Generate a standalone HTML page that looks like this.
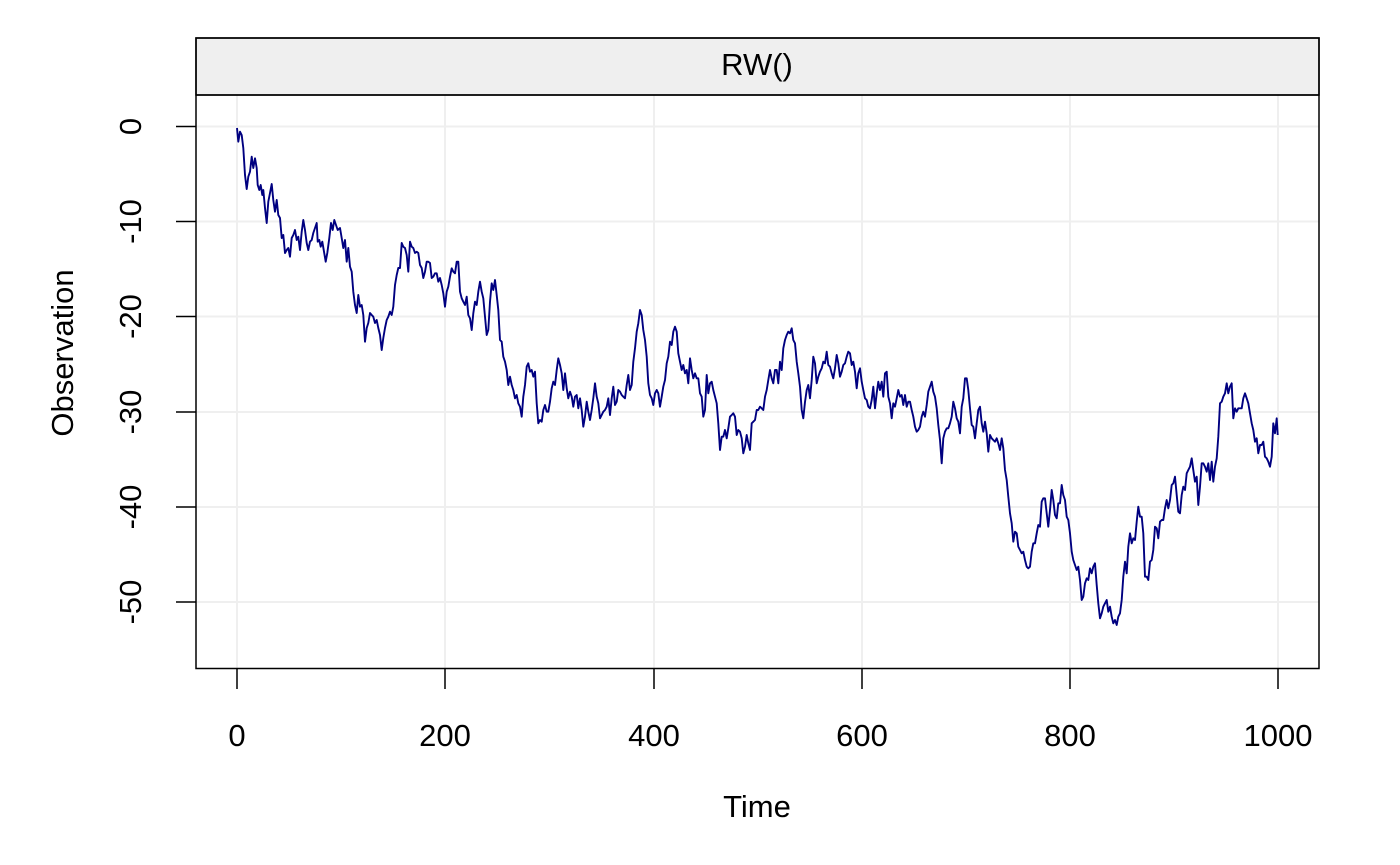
<!DOCTYPE html>
<html>
<head>
<meta charset="utf-8">
<style>
html,body{margin:0;padding:0;background:#fff;}
svg{display:block;}
text{font-family:"Liberation Sans",Arial,sans-serif;fill:#000;}
</style>
</head>
<body>
<svg width="1400" height="865" viewBox="0 0 1400 865" xmlns="http://www.w3.org/2000/svg">
<rect x="0" y="0" width="1400" height="865" fill="#fff"/>
<!-- grid -->
<g stroke="#efefef" stroke-width="2" fill="none">
<line x1="237" y1="95" x2="237" y2="668"/>
<line x1="445" y1="95" x2="445" y2="668"/>
<line x1="654" y1="95" x2="654" y2="668"/>
<line x1="862" y1="95" x2="862" y2="668"/>
<line x1="1070" y1="95" x2="1070" y2="668"/>
<line x1="1278" y1="95" x2="1278" y2="668"/>
<line x1="196" y1="126.5" x2="1319" y2="126.5"/>
<line x1="196" y1="221.5" x2="1319" y2="221.5"/>
<line x1="196" y1="316.5" x2="1319" y2="316.5"/>
<line x1="196" y1="412" x2="1319" y2="412"/>
<line x1="196" y1="507" x2="1319" y2="507"/>
<line x1="196" y1="602" x2="1319" y2="602"/>
</g>
<!-- strip -->
<rect x="196" y="38" width="1123" height="57" fill="#efefef" stroke="#000" stroke-width="1.5"/>
<text x="757" y="75" font-size="31" text-anchor="middle">RW()</text>
<!-- series -->
<polyline fill="none" stroke="#000080" stroke-width="1.9" stroke-linejoin="round" points="
237,128 238.3,141.7 240,131.7 241.7,135 243.3,148 245,175 246.7,189 248.3,176.7 250,171.7 251.7,156.7 253.3,168 255,158.3 256.7,168 257.7,185 259.3,190 260.7,185 262.3,195 263.3,190 265,208 266.7,223 268.3,201.7 270,193 271.7,184 273.3,200 275,211.7 276.7,200 278.3,215 280,218 281.7,238 283.3,235 285,253 286.7,250 288.3,248 290,256.7 291.7,238 293.3,235 295,230 296.7,240 298.3,236.7 300,250 301.7,231.7 303.3,220 305,230 306.7,243 308.3,250 310,241.7 311.7,240 313.3,233 315,228 316.7,223 317.7,241.7 319.3,240 320.7,246.7 322.3,241.7 324,251.7 325.7,261.7 327.3,253 329.3,238 331,223 332.7,230 334.3,220 336,225 337.7,230 340,228 341.7,238 343.3,248 345,240 346.7,261.7 348.3,248 350,266.7 351.7,271.7 353.3,291.7 355,305 356.7,313 358.3,295 360,306.7 361.7,305 363.3,315 365,341.7 366.7,328 368.3,323 370,313 371.7,315 373.3,316.7 375,323 376.7,320 378.3,328 380,335 381.7,350 383.3,338 385,328 386.7,320 388.3,316.7 390,311.7 391.7,315 393.3,306.7 395,285 396.7,275 398.3,268 400,268 401.7,243 403.3,246.7 405,248 406.7,255 408.3,271.7 410,241.7 411.7,246.7 413.3,248 415,253 416.7,251.7 418.3,253 420,265 421.7,268 423.3,278 425,271.7 426.7,261.7 428.3,261.7 430,263
431.7,278 433.3,276.7 435,273.3 436.7,273.3 438.3,281.7 440,278 441.7,285 443.3,293.3 445,306.7 446.7,291.7 448.3,286.7 450,276.7 451.7,268.3 453.3,271.7 455,273.3 456.7,261.7 458.3,261.7 460,291.7 461.7,298.3 463.3,301.7 465,305 466.7,296.7 468.3,315 470,318.3 471.7,330 473.3,313.3 475,301.7 476.7,305 478.3,291.7 480,281.7 481.7,291.7 483.3,298.3 485,316.7 486.7,335 488.3,330 490,301.7 491.7,283.3 493.3,290 495,280 496.7,295 498.3,310 500,340 501.7,341.7 503.3,356.7 505,361.7 506.7,370 508.3,385 510,376.7 511.7,385 513.3,390 515,398.3 516.7,395 518.3,403.3 520,406.7 521.7,416.7 523.3,396.7 525,385 526.7,366.7 528.3,363.3 530,371.7 531.7,370 533.3,376.7 535,371.7 536.7,403.3 538.3,423.3 540,420 541.7,421.7 543.3,410 545,405 546.7,411.7 548.3,411.7 550,401.7 551.7,388.3 553.3,381.7 555,385 556.7,370 558.3,358.3 560,365 561.7,373.3 563.3,390 565,373.3 566.7,388.3 568.3,398.3 570,391.7 571.7,396.7 573.3,406.7 575,396.7 576.7,395 578.3,408.3 580,398.3 581.7,410 583.3,426.7 585,416.7 586.7,401.7 588.3,411.7 590,420 591.7,410 593.3,398.3 595,383.3 596.7,396.7 598.3,403.3 600,418.3 601.7,415 603.3,411.7 605,410 606.7,406.7 608.3,398.3 610,415 611.7,398.3 613.3,386.7 615,405 616.7,401.7 618.3,390 620,391.7
621.7,395 623.3,396.7 625,398.3 626.7,385 628.3,375 630,390 631.7,385 633.3,361.7 635,348.3 636.7,331.7 638.3,323.3 640,310 641.7,315 643.3,330 645,340 646.7,356.7 648.3,383.3 650,395 651.7,398.3 653.3,405 655,393.3 656.7,390 658.3,393.3 660,406.7 661.7,396.7 663.3,386.7 665,380 666.7,363.3 668.3,356.7 670,341.7 671.7,345 673.3,331.7 675,326.7 676.7,331.7 678.3,353.3 680,361.7 681.7,370 683.3,365 685,373.3 686.7,370 688.3,383.3 690,358.3 691.7,370 693.3,378.3 695,373.3 696.7,378.3 698.3,378.3 700,393.3 701.7,396.7 703.3,416.7 705,410 706.7,375 708.3,393.3 710,383.3 711.7,381.7 713.3,390 715,396.7 716.7,403.3 718.3,423.3 720,450 721.7,436.7 723.3,436.7 725,430 726.7,438.3 728.3,428.3 730,416.7 731.7,415 733.3,413.3 735,416.7 736.7,435 738.3,430 740,431.7 741.7,438.3 743.3,453.3 745,446.7 746.7,435 748.3,443.3 750,450 751.7,423.3 753.3,421.7 755,420 756.7,410 758.3,410 760,406.7 761.7,408.3 763.3,410 765,396.7 766.7,390 768.3,380 770,370 771.7,378.3 773.3,383.3 775,370 776.7,370 778.3,383.3 780,361.7 781.7,370 783.3,348.3 785,340 786.7,335 788.3,331.7 790,333.3 791.7,328.3 793.3,340 795,343.3 796.7,361.7 798.3,373.3 800,386.7 801.7,410 803.3,418.3 805,402 806.7,390 808.3,385 810,398.3
811.7,380 813.3,356.7 815,363.3 816.7,383.3 818.3,376.7 820,371.7 821.7,368.3 823.3,361.7 825,363.3 826.7,351.7 828.3,365 830,366.7 831.7,373.3 833.3,378.3 835,368.3 836.7,355 838.3,363.3 840,376.7 841.7,371.7 843.3,365 845,363.3 846.7,356.7 848.3,351.7 850,353.3 851.7,365 853.3,361.7 855,371.7 856.7,388.3 858.3,373.3 860,368.3 861.7,381.7 863.3,390 865,398.3 866.7,400 868.3,406.7 870,408.3 871.7,400 873.3,386.7 875,408.3 876.7,393.3 878.3,381.7 880,390 881.7,381.7 883.3,396.7 885,373.3 886.7,371.7 888.3,396.7 890,403.3 891.7,418.3 893.3,403.3 895,406.7 896.7,398.3 898.3,390 900,396.7 901.7,395 903.3,405 905,395 906.7,406.7 908.3,401.7 910,401.7 911.7,410 913.3,416.7 915,426.7 916.7,431.7 918.3,430 920,426.7 921.7,416.7 923.3,411.7 925,416.7 926.7,405 928.3,391.7 930,386.7 931.7,381.7 933.3,391.7 935,396.7 936.7,408.3 938.3,425 940,440 941.7,463.3 943.3,438.3 945,431.7 946.7,428.3 948.3,428.3 950,423.3 951.7,416.7 953.3,401.7 955,408.3 956.7,418.3 958.3,421.7 960,433.3 961.7,406.7 963.3,398.3 965,378.3 966.7,378.3 968.3,390 970,408.3 971.7,425 973.3,426.7 975,438.3 976.7,423.3 978.3,410 980,406.7 981.7,423.3 983.3,431.7 985,421.7 986.7,433.3 988.3,451.7 990,435 991.7,438.3 993.3,440 995,441.7 996.7,438.3 998.3,443.3 1000,450
1001.7,438.3 1003.3,448.3 1005,470 1006.7,480 1008.3,496.7 1010,513.3 1011.7,523.3 1013.3,541.7 1015,531.7 1016.7,533.3 1018.3,546.7 1020,550 1021.7,553.3 1023.3,551.7 1025,560 1026.7,566.7 1028.3,568.3 1030,566.7 1031.7,551.7 1033.3,543.3 1035,543.3 1036.7,533.3 1038.3,525 1040,526.7 1041.7,501.7 1043.3,498.3 1045,498.3 1046.7,513.3 1048.3,526.7 1050,510 1051.7,490 1053.3,500 1055,515 1056.7,518.3 1058.3,503.3 1060,503.3 1061.7,485 1063.3,495 1065,500 1066.7,516.7 1068.3,520 1070,533.3 1071.7,551.7 1073.3,560 1075,565 1076.7,570 1078.3,566.7 1080,580 1081.7,600 1083.3,596.7 1085,583.3 1086.7,578.3 1088.3,580 1090,568.3 1091.7,573.3 1093.3,566.7 1095,563.3 1096.7,585 1098.3,603.3 1100,618.3 1101.7,613.3 1103.3,606.7 1105,603.3 1106.7,600 1108.3,611.7 1110,606.7 1111.7,616.7 1113.3,623.3 1115,620 1116.7,625 1118.3,616.7 1120,613.3 1121.7,600 1123.3,576.7 1125,561.7 1126.7,573.3 1128.3,546.7 1130,533.3 1131.7,543.3 1133.3,538.3 1135,540 1136.7,521.7 1138.3,506.7 1140,516.7
1141.7,516.7 1143.3,533.3 1145,576.7 1146.7,576.7 1148.3,580 1150,561.7 1151.7,560 1153.3,550 1155,526.7 1156.7,528.3 1158.3,538.3 1160,521.7 1161.7,520 1163.3,520 1165,508.3 1166.7,500 1168.3,508.3 1170,500 1171.7,485 1173.3,483.3 1175,476.7 1176.7,495 1178.3,511.7 1180,513.3 1181.7,495 1183.3,486.7 1185,490 1186.7,473.3 1188.3,470 1190,466.7 1191.7,458.3 1193.3,470 1195,481.7 1196.7,476.7 1198.3,505 1200,486.7 1201.7,463.3 1203.3,463.3 1205,466.7 1206.7,471.7 1208.3,463.3 1210,480 1211.7,461.7 1213.3,481.7 1215,466.7 1216.7,458.3 1218.3,436.7 1220,403.3 1221.7,401.7 1223.3,396.7 1225,393.3 1226.7,383.3 1228.3,393.3 1230,386.7 1231.7,383.3 1233.3,418.3 1235,408.3 1236.7,411.7 1238.3,408.3 1240,408.3 1241.7,408.3 1243.3,398.3 1245,393.3 1246.7,398.3 1248.3,403.3 1250,413.3 1251.7,423.3 1253.3,430 1255,441.7 1256.7,438.3 1258.3,453.3 1260,445 1261.7,445 1263.3,441.7 1265,456.7 1266.7,458.3 1268.3,461.7 1270,466.7 1271.7,456.7 1273.3,423.3 1275,433.3 1276.7,418.3 1277.7,435
"/>
<!-- plot box -->
<rect x="196" y="38" width="1123" height="630.5" fill="none" stroke="#000" stroke-width="1.5"/>
<line x1="196" y1="95" x2="1319" y2="95" stroke="#000" stroke-width="1.5"/>
<!-- ticks -->
<g stroke="#000" stroke-width="1.5">
<line x1="237" y1="668.5" x2="237" y2="689"/>
<line x1="445" y1="668.5" x2="445" y2="689"/>
<line x1="654" y1="668.5" x2="654" y2="689"/>
<line x1="862" y1="668.5" x2="862" y2="689"/>
<line x1="1070" y1="668.5" x2="1070" y2="689"/>
<line x1="1278" y1="668.5" x2="1278" y2="689"/>
<line x1="176" y1="126.5" x2="196" y2="126.5"/>
<line x1="176" y1="221.5" x2="196" y2="221.5"/>
<line x1="176" y1="316.5" x2="196" y2="316.5"/>
<line x1="176" y1="412" x2="196" y2="412"/>
<line x1="176" y1="507" x2="196" y2="507"/>
<line x1="176" y1="602" x2="196" y2="602"/>
</g>
<g font-size="31" text-anchor="middle">
<text x="237" y="746">0</text>
<text x="445" y="746">200</text>
<text x="654" y="746">400</text>
<text x="862" y="746">600</text>
<text x="1070" y="746">800</text>
<text x="1278" y="746">1000</text>
<text x="757" y="817">Time</text>
</g>
<g font-size="31" text-anchor="middle">
<text transform="translate(141,126.5) rotate(-90)">0</text>
<text transform="translate(141,221.5) rotate(-90)">-10</text>
<text transform="translate(141,316.5) rotate(-90)">-20</text>
<text transform="translate(141,412) rotate(-90)">-30</text>
<text transform="translate(141,507) rotate(-90)">-40</text>
<text transform="translate(141,602) rotate(-90)">-50</text>
<text transform="translate(73,353) rotate(-90)">Observation</text>
</g>
</svg>
</body>
</html>
